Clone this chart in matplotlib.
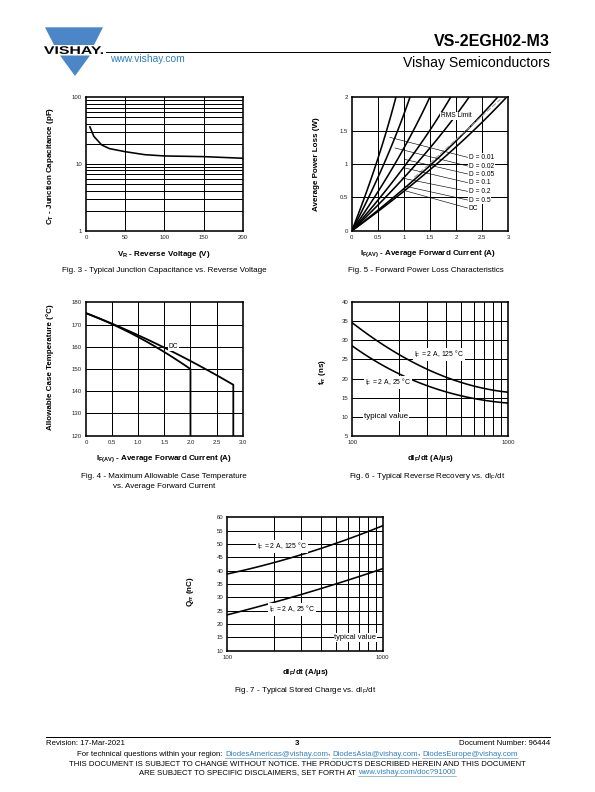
import numpy as np
import matplotlib
matplotlib.use('Agg')
import matplotlib.pyplot as plt
from matplotlib.patches import Polygon, PathPatch
from matplotlib.textpath import TextPath
from matplotlib.font_manager import FontProperties
from matplotlib.transforms import Affine2D

plt.rcParams['font.family'] = ['Liberation Sans', 'DejaVu Sans']
plt.rcParams['mathtext.fontset'] = 'custom'
plt.rcParams['mathtext.rm'] = 'Liberation Sans'
plt.rcParams['mathtext.it'] = 'Liberation Sans'
plt.rcParams['mathtext.bf'] = 'Liberation Sans:bold'

# Fig. 3 junction capacitance
vr = [5, 10, 20, 30, 50, 75, 100, 150, 200]
ct = [36, 26, 19.3, 17, 15.3, 13.8, 13.2, 12.9, 12.2]

# Fig. 5 forward power loss: current at each power level for each duty cycle
p_levels = [0, 0.5, 1.0, 1.5, 2.0]
duty_names = ['D = 0.01', 'D = 0.02', 'D = 0.05', 'D = 0.1', 'D = 0.2', 'D = 0.5', 'DC']
i_d001 = [0, 0.25, 0.47, 0.66, 0.85]
i_d002 = [0, 0.33, 0.62, 0.87, 1.12]
i_d005 = [0, 0.44, 0.83, 1.17, 1.50]
i_d01 = [0, 0.55, 1.05, 1.48, 1.90]
i_d02 = [0, 0.65, 1.24, 1.76, 2.25]
i_d05 = [0, 0.81, 1.54, 2.18, 2.80]
i_dc = [0, 0.86, 1.63, 2.32, 2.97]
rms_i = [1.2, 2.85]
rms_p = [0.8, 1.97]
# leader lines: point on curve -> label
lead_start_i = [0.73, 0.83, 1.01, 1.02, 0.96, 1.01, 1.02]
lead_start_p = [1.40, 1.24, 1.07, 0.94, 0.79, 0.67, 0.60]
label_p = [1.10, 0.97, 0.85, 0.72, 0.59, 0.46, 0.34]

# Fig. 4 allowable case temperature
if_a = [0, 0.5, 1.0, 1.5, 2.0, 2.0]
tc_a = [175, 170.4, 164.2, 157.6, 150, 120]
if_dc = [0, 0.5, 1.0, 1.5, 2.0, 2.5, 2.82, 2.82]
tc_dc = [175, 170.6, 165.2, 159.5, 153.4, 147.5, 142.8, 120]

# Fig. 6 reverse recovery time
didt = [100, 150, 200, 300, 400, 500, 700, 1000]
trr_125 = [34.6, 29.5, 26.2, 22.5, 20.3, 19.0, 17.4, 16.4]
trr_25 = [28.5, 24.0, 21.2, 18.1, 16.4, 15.5, 14.4, 13.5]

# Fig. 7 stored charge
didt_q = [100, 200, 300, 500, 700, 1000]
qrr_125 = [38.6, 43.4, 46.1, 49.9, 53.1, 57.1]
qrr_25 = [23.4, 28.3, 31.0, 35.0, 37.7, 40.8]

W, H = 595, 792
fig = plt.figure(figsize=(W / 72, H / 72), dpi=72)

page = fig.add_axes([0, 0, 1, 1])
page.set_xlim(0, W)
page.set_ylim(H, 0)
page.axis('off')

TICK = 6
LAB = 8
NOTE = 6.6
FOOT = 7.8


def rect(l, t, r, b):
    return [l / W, 1 - b / H, (r - l) / W, (b - t) / H]


def setup(ax):
    ax.tick_params(length=0, labelsize=TICK, pad=4, colors='#222222')
    for s in ax.spines.values():
        s.set_linewidth(1.6)


def hgrid(ax, vals):
    for v in vals:
        ax.axhline(v, color='black', lw=1.0, zorder=1)


def vgrid(ax, vals):
    for v in vals:
        ax.axvline(v, color='black', lw=1.0, zorder=1)


def smooth(x, y, deg=2, logx=False, n=100):
    x = np.asarray(x, float)
    y = np.asarray(y, float)
    xs = np.log10(x) if logx else x
    c = np.polyfit(xs, y, deg)
    xx = np.linspace(xs.min(), xs.max(), n)
    return (10 ** xx if logx else xx), np.polyval(c, xx)


box = dict(fc='white', ec='none', pad=0.8)

# ---------- Fig. 3 ----------
ax = fig.add_axes(rect(86, 97.3, 242.7, 230.7))
setup(ax)
ax.set_yscale('log')
ax.set_xlim(0, 200)
ax.set_ylim(1, 100)
hgrid(ax, [m * d for d in (1, 10) for m in range(2, 10)] + [10])
vgrid(ax, [50, 100, 150])
ax.plot(vr, ct, color='black', lw=1.6, zorder=3)
ax.set_xticks([0, 50, 100, 150, 200])
ax.set_yticks([1, 10, 100])
ax.set_yticklabels(['1', '10', '100'])
ax.minorticks_off()
page.text(50, 166, r'C$_\mathbf{T}$ - Junction Capacitance (pF)', rotation=90,
          ha='center', va='center', fontsize=LAB, fontweight='bold')
page.text(164, 254, r'V$_\mathbf{R}$ - Reverse Voltage (V)', ha='center', va='center',
          fontsize=LAB, fontweight='bold')
page.text(164, 271, 'Fig. 3 - Typical Junction Capacitance vs. Reverse Voltage',
          ha='center', va='center', fontsize=LAB)

# ---------- Fig. 5 ----------
ax = fig.add_axes(rect(351.7, 97.3, 508.3, 230.7))
setup(ax)
ax.set_xlim(0, 3)
ax.set_ylim(0, 2)
hgrid(ax, [0.5, 1.0, 1.5])
vgrid(ax, [0.5, 1.0, 1.5, 2.0, 2.5])
for ii in [i_d001, i_d002, i_d005, i_d01, i_d02, i_d05, i_dc]:
    pp, cur = smooth(p_levels, ii, deg=2)
    ax.plot(cur, pp, color='black', lw=1.6, zorder=3)
ax.plot(rms_i, rms_p, color='#9a9a9a', lw=1.0, ls=(0, (5, 2)), zorder=4)
for name, si, sp, lp in zip(duty_names, lead_start_i, lead_start_p, label_p):
    ax.plot([si, 2.22], [sp, lp], color='black', lw=0.6, zorder=4)
    ax.text(2.24, lp, name, fontsize=NOTE, ha='left', va='center', bbox=box, zorder=6)
ax.text(2.0, 1.72, 'RMS Limit', fontsize=NOTE, ha='center', va='center', bbox=box, zorder=6)
ax.set_xticks([0, 0.5, 1, 1.5, 2, 2.5, 3])
ax.set_xticklabels(['0', '0.5', '1', '1.5', '2', '2.5', '3'])
ax.set_yticks([0, 0.5, 1, 1.5, 2])
ax.set_yticklabels(['0', '0.5', '1', '1.5', '2'])
page.text(316, 164, 'Average Power Loss (W)', rotation=90, ha='center', va='center',
          fontsize=LAB, fontweight='bold')
page.text(428, 254, r'I$_\mathbf{F(AV)}$ - Average Forward Current (A)', ha='center',
          va='center', fontsize=LAB, fontweight='bold')
page.text(426, 271, 'Fig. 5 - Forward Power Loss Characteristics', ha='center',
          va='center', fontsize=LAB)

# ---------- Fig. 4 ----------
ax = fig.add_axes(rect(86, 302.3, 242.7, 435.7))
setup(ax)
ax.set_xlim(0, 3)
ax.set_ylim(120, 180)
hgrid(ax, [130, 140, 150, 160, 170])
vgrid(ax, [0.5, 1.0, 1.5, 2.0, 2.5])
cx, cy = smooth(if_a[:-1], tc_a[:-1], deg=2)
ax.plot(list(cx) + [if_a[-1]], list(cy) + [tc_a[-1]], color='black', lw=1.8, zorder=3)
cx, cy = smooth(if_dc[:-1], tc_dc[:-1], deg=2)
ax.plot(list(cx) + [if_dc[-1]], list(cy) + [tc_dc[-1]], color='black', lw=1.8, zorder=3)
ax.text(1.67, 160, 'DC', fontsize=NOTE, ha='center', va='center', bbox=box, zorder=6)
ax.set_xticks([0, 0.5, 1, 1.5, 2, 2.5, 3])
ax.set_xticklabels(['0', '0.5', '1.0', '1.5', '2.0', '2.5', '3.0'])
ax.set_yticks([120, 130, 140, 150, 160, 170, 180])
page.text(50, 367, 'Allowable Case Temperature (°C)', rotation=90, ha='center',
          va='center', fontsize=LAB, fontweight='bold')
page.text(164, 459, r'I$_\mathbf{F(AV)}$ - Average Forward Current (A)', ha='center',
          va='center', fontsize=LAB, fontweight='bold')
page.text(164, 476, 'Fig. 4 - Maximum Allowable Case Temperature', ha='center',
          va='center', fontsize=LAB)
page.text(164, 486, 'vs. Average Forward Current', ha='center', va='center', fontsize=LAB)

# ---------- Fig. 6 ----------
ax = fig.add_axes(rect(352.3, 302.3, 508.3, 435.7))
setup(ax)
ax.set_xscale('log')
ax.set_xlim(100, 1000)
ax.set_ylim(5, 40)
hgrid(ax, [10, 15, 20, 25, 30, 35])
vgrid(ax, list(range(200, 1000, 100)))
for q in (trr_125, trr_25):
    cx, cy = smooth(didt, q, deg=3, logx=True)
    ax.plot(cx, cy, color='black', lw=1.6, zorder=3)
ax.text(360, 26.2, r'I$_\mathrm{F}$ = 2 A, 125 °C', fontsize=6.9, ha='center', va='center',
        bbox=box, zorder=6)
ax.text(169, 19, r'I$_\mathrm{F}$ = 2 A, 25 °C', fontsize=6.9, ha='center', va='center',
        bbox=box, zorder=6)
ax.text(164, 10, 'typical value', fontsize=8, ha='center', va='center', bbox=box, zorder=6)
ax.set_xticks([100, 1000])
ax.set_xticklabels(['100', '1000'])
ax.minorticks_off()
ax.set_yticks([5, 10, 15, 20, 25, 30, 35, 40])
page.text(323, 372, r't$_\mathbf{rr}$ (ns)', rotation=90, ha='center', va='center',
          fontsize=LAB, fontweight='bold')
page.text(430, 459, r'dI$_\mathbf{F}$/dt (A/µs)', ha='center', va='center',
          fontsize=LAB, fontweight='bold')
page.text(427, 476, r'Fig. 6 - Typical Reverse Recovery vs. dI$_\mathrm{F}$/dt', ha='center',
          va='center', fontsize=LAB)

# ---------- Fig. 7 ----------
ax = fig.add_axes(rect(227.3, 517.3, 382.7, 650.7))
setup(ax)
ax.set_xscale('log')
ax.set_xlim(100, 1000)
ax.set_ylim(10, 60)
hgrid(ax, list(range(15, 60, 5)))
vgrid(ax, list(range(200, 1000, 100)))
for q in (qrr_125, qrr_25):
    cx, cy = smooth(didt_q, q, deg=2, logx=True)
    ax.plot(cx, cy, color='black', lw=1.6, zorder=3)
ax.text(225, 49, r'I$_\mathrm{F}$ = 2 A, 125 °C', fontsize=6.9, ha='center', va='center',
        bbox=box, zorder=6)
ax.text(260, 25.5, r'I$_\mathrm{F}$ = 2 A, 25 °C', fontsize=6.9, ha='center', va='center',
        bbox=box, zorder=6)
ax.text(668, 15, 'typical value', fontsize=7.5, ha='center', va='center', bbox=box, zorder=6)
ax.set_xticks([100, 1000])
ax.set_xticklabels(['100', '1000'])
ax.minorticks_off()
ax.set_yticks(list(range(10, 61, 5)))
page.text(191, 592, r'Q$_\mathbf{rr}$ (nC)', rotation=90, ha='center', va='center',
          fontsize=LAB, fontweight='bold')
page.text(305, 672.5, r'dI$_\mathbf{F}$/dt (A/µs)', ha='center', va='center',
          fontsize=LAB, fontweight='bold')
page.text(305, 690, r'Fig. 7 - Typical Stored Charge vs. dI$_\mathrm{F}$/dt', ha='center',
          va='center', fontsize=LAB)

# ---------- header ----------
blue = '#4a86c8'
page.add_patch(Polygon([(45, 27.3), (103, 27.3), (94, 45), (54, 45)],
                       closed=True, fc=blue, ec='none'))
page.add_patch(Polygon([(60, 55.5), (90, 55.5), (75, 76)], closed=True, fc=blue, ec='none'))
# logo word, stretched into its box
tp = TextPath((0, 0), 'VISHAY.', size=10, prop=FontProperties(family='Liberation Sans', weight='bold'))
ext = tp.get_extents()
sx = (103 - 44) / ext.width
sy = (54 - 46.2) / ext.height
tr = Affine2D().translate(-ext.x0, -ext.y0).scale(sx, -sy).translate(44, 54)
page.add_patch(PathPatch(tr.transform_path(tp), fc='black', ec='none'))
page.plot([106, 550], [52.3, 52.3], color='black', lw=1.0)
page.text(110, 59, 'www.vishay.com', ha='left', va='center', fontsize=10.2, color='#2f7fc1')
page.text(550, 41, 'VS-2EGH02-M3', ha='right', va='center', fontsize=16, fontweight='bold')
page.text(550, 63, 'Vishay Semiconductors', ha='right', va='center', fontsize=14)

# ---------- footer ----------
page.plot([46, 550], [737.3, 737.3], color='black', lw=1.0)
page.text(46, 743.3, 'Revision: 17-Mar-2021', ha='left', va='center', fontsize=FOOT)
page.text(297, 743.3, '3', ha='center', va='center', fontsize=FOOT, fontweight='bold')
page.text(550, 743.3, 'Document Number: 96444', ha='right', va='center', fontsize=FOOT)

link = '#2f7fc1'


def rich_line(y, parts, fs=FOOT):
    r = fig.canvas.get_renderer()
    inv = page.transData.inverted()
    widths = []
    for s, c, u in parts:
        t = page.text(0, y, s, fontsize=fs, va='center', ha='left')
        bb = t.get_window_extent(r)
        x0 = inv.transform((bb.x0, bb.y0))[0]
        x1 = inv.transform((bb.x1, bb.y0))[0]
        widths.append(x1 - x0)
        t.remove()
    x = W / 2 - sum(widths) / 2
    for (s, c, u), w in zip(parts, widths):
        page.text(x, y, s, fontsize=fs, va='center', ha='left', color=c)
        if u:
            page.plot([x, x + w], [y + 3.8, y + 3.8], color=c, lw=0.5)
        x += w


rich_line(754, [('For technical questions within your region: ', 'black', False),
                ('DiodesAmericas@vishay.com', link, True), (', ', 'black', False),
                ('DiodesAsia@vishay.com', link, True), (', ', 'black', False),
                ('DiodesEurope@vishay.com', link, True)])
page.text(W / 2, 764.5, 'THIS DOCUMENT IS SUBJECT TO CHANGE WITHOUT NOTICE. THE PRODUCTS '
          'DESCRIBED HEREIN AND THIS DOCUMENT', ha='center', va='center', fontsize=FOOT)
rich_line(772.5, [('ARE SUBJECT TO SPECIFIC DISCLAIMERS, SET FORTH AT ', 'black', False),
                  ('www.vishay.com/doc?91000', link, True)])

fig.savefig('out.png', dpi=72)
